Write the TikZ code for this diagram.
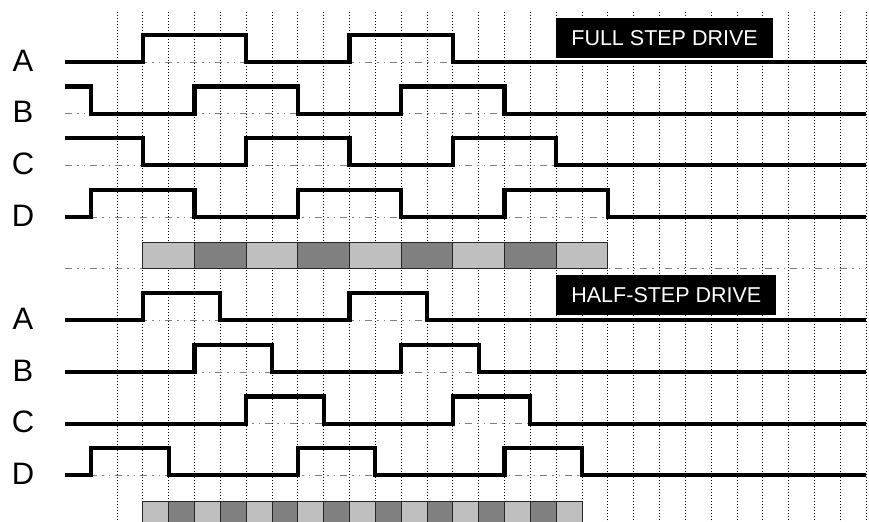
\documentclass[tikz,border=0pt]{standalone}
\usepackage{fontspec}
\setmainfont{Liberation Sans}
\tikzset{
  vline/.style={draw=black, line width=1pt, dash pattern=on 1.2pt off 1.8pt},
  midline/.style={draw=black!50, line width=0.9pt,
                  dash pattern=on 7pt off 5pt on 1.5pt off 5pt on 1.5pt off 5pt},
  wave/.style={line width=4.2pt, line join=miter},
  cell/.style={draw=black!85, line width=1pt},
  banner/.style={fill=black, text=white, anchor=south west, inner xsep=15pt,
                 minimum height=40pt, font=\fontsize{21.5}{22}\selectfont},
  lab/.style={inner sep=0pt, font=\fontsize{31}{31}\selectfont},
}

\begin{document}
\begin{tikzpicture}[x=25.83pt, y=25.83pt]
\useasboundingbox (-4.53,0) rectangle (29.11,-20.17);
% time grid
\foreach \i in {0,...,29} {
  \draw[vline] (\i,-0.46) -- (\i,-20.5);
}
% zero levels and the separator
\foreach \y in {2.40,4.40,6.40,8.40,10.40,12.40,14.40,16.40,18.40} {
  \draw[midline] (-2,-\y) -- (29,-\y);
}
% step cells
\foreach \i in {0,...,8} {
  \pgfmathtruncatemacro\tone{iseven(\i) ? 25 : 50}
  \draw[cell, fill=black!\tone] (1+2*\i,-9.40) rectangle ++(2,-1);
}
\foreach \i in {0,...,16} {
  \pgfmathtruncatemacro\tone{iseven(\i) ? 25 : 50}
  \draw[cell, fill=black!\tone] (1+\i,-19.40) rectangle ++(1,-1);
}
% full step phases
\foreach \y/\h/\p in {2.40/0/{1/5,9/13}, 4.40/1/{-2/-1,3/7,11/15},
                      6.40/1/{-2/1,5/9,13/17}, 8.40/0/{-1/3,7/11,15/19}} {
  \draw[wave] (-2,{-\y+\h*1.05}) foreach \a/\b in \p {
    -| (\a,{-\y+1.05}) -| (\b,-\y) } -- (29,-\y);
}
% half step phases
\foreach \y/\h/\p in {12.40/0/{1/4,9/12}, 14.40/0/{3/6,11/14},
                      16.40/0/{5/8,13/16}, 18.40/0/{-1/2,7/10,15/18}} {
  \draw[wave] (-2,{-\y+\h*1.05}) foreach \a/\b in \p {
    -| (\a,{-\y+1.05}) -| (\b,-\y) } -- (29,-\y);
}
\node[banner] (full) at (17,-2.245) {FULL STEP DRIVE};
\node[banner] (half) at (17,-12.2) {HALF-STEP DRIVE};
\foreach \n/\y in {A/2.40, B/4.40, C/6.40, D/8.40} {
  \node[lab] (f\n) at (-3.64,{-\y+0.06}) {\n};
}
\foreach \n/\y in {A/12.40, B/14.40, C/16.40, D/18.40} {
  \node[lab] (h\n) at (-3.64,{-\y+0.06}) {\n};
}
\end{tikzpicture}
\end{document}
